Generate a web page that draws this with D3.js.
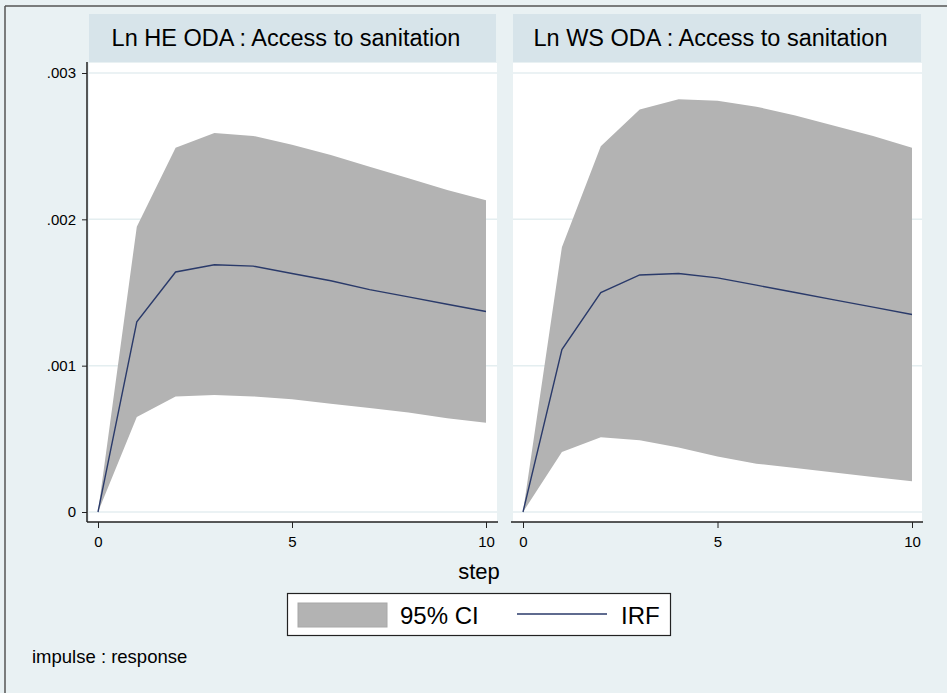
<!DOCTYPE html>
<html>
<head>
<meta charset="utf-8">
<script src="https://cdn.jsdelivr.net/npm/d3@7"></script>
<style>
  body { margin: 0; background: #e9f1f3; }
  text { font-family: "Liberation Sans", Arial, sans-serif; fill: #000; }
</style>
</head>
<body>
<div id="vis"></div>
<script>
const width = 947;
const height = 693;

const steps = [0, 1, 2, 3, 4, 5, 6, 7, 8, 9, 10];

// Ln HE ODA : Access to sanitation
const heIrf = [0, 0.00130, 0.00164, 0.00169, 0.00168, 0.00163, 0.00158, 0.00152, 0.00147, 0.00142, 0.00137];
const heLower = [0, 0.00065, 0.00079, 0.00080, 0.00079, 0.00077, 0.00074, 0.00071, 0.00068, 0.00064, 0.00061];
const heUpper = [0, 0.00195, 0.00249, 0.00259, 0.00257, 0.00251, 0.00244, 0.00236, 0.00228, 0.00220, 0.00213];

// Ln WS ODA : Access to sanitation
const wsIrf = [0, 0.00111, 0.00150, 0.00162, 0.00163, 0.00160, 0.00155, 0.00150, 0.00145, 0.00140, 0.00135];
const wsLower = [0, 0.00041, 0.00051, 0.00049, 0.00044, 0.00038, 0.00033, 0.00030, 0.00027, 0.00024, 0.00021];
const wsUpper = [0, 0.00181, 0.00250, 0.00275, 0.00282, 0.00281, 0.00277, 0.00271, 0.00264, 0.00257, 0.00249];

const panelTitles = ["Ln HE ODA : Access to sanitation", "Ln WS ODA : Access to sanitation"];
const yTicks = [0, 0.001, 0.002, 0.003];
const yTickLabels = ["0", ".001", ".002", ".003"];
const xTicks = [0, 5, 10];
const legendLabels = ["95% CI", "IRF"];

const bg = "#e9f1f3";
const bandColor = "#d7e4ea";
const ciColor = "#b3b3b3";
const irfColor = "#2a3a6a";
const gridColor = "#e4eef0";

const svg = d3
  .select("#vis")
  .append("svg")
  .attr("width", width)
  .attr("height", height);

svg.append("rect").attr("width", width).attr("height", height).attr("fill", bg);

// outer frame (top and left edges visible)
svg.append("line").attr("x1", 5).attr("x2", width).attr("y1", 6).attr("y2", 6)
  .attr("stroke", "#555").attr("stroke-width", 1.5);
svg.append("line").attr("x1", 5).attr("x2", 5).attr("y1", 6).attr("y2", height)
  .attr("stroke", "#555").attr("stroke-width", 1.5);

const y = d3.scaleLinear().domain([0, 0.003]).range([512, 73]);

const panels = [
  { title: panelTitles[0], irf: heIrf, lower: heLower, upper: heUpper, left: 89, right: 497, x0: 98, x1: 486, yAxis: true },
  { title: panelTitles[1], irf: wsIrf, lower: wsLower, upper: wsUpper, left: 513, right: 922, x0: 523, x1: 912, yAxis: false },
];

const plotTop = 62;
const plotBottom = 522;

panels.forEach((p) => {
  const g = svg.append("g");
  const x = d3.scaleLinear().domain([0, 10]).range([p.x0, p.x1]);

  // title band
  g.append("rect")
    .attr("x", p.left)
    .attr("y", 14)
    .attr("width", p.right - p.left - 1)
    .attr("height", plotTop - 14)
    .attr("fill", bandColor);

  g.append("text")
    .attr("x", (p.left + p.right) / 2 - 7)
    .attr("y", 46)
    .attr("text-anchor", "middle")
    .style("font-size", "23.5px")
    .text(p.title);

  // plot region
  g.append("rect")
    .attr("x", p.left)
    .attr("y", plotTop + 1)
    .attr("width", p.right - p.left)
    .attr("height", plotBottom - plotTop - 1)
    .attr("fill", "#fff");

  // gridlines
  g.selectAll(".grid")
    .data(yTicks)
    .enter()
    .append("line")
    .attr("x1", p.left)
    .attr("x2", p.right)
    .attr("y1", (d) => y(d))
    .attr("y2", (d) => y(d))
    .attr("stroke", gridColor)
    .attr("stroke-width", 1.5);

  // confidence band
  const area = d3
    .area()
    .x((d, i) => x(steps[i]))
    .y0((d, i) => y(p.lower[i]))
    .y1((d, i) => y(p.upper[i]));

  g.append("path")
    .datum(steps)
    .attr("d", area)
    .attr("fill", ciColor);

  // impulse response
  const line = d3
    .line()
    .x((d, i) => x(steps[i]))
    .y((d) => y(d));

  g.append("path")
    .datum(p.irf)
    .attr("d", line)
    .attr("fill", "none")
    .attr("stroke", irfColor)
    .attr("stroke-width", 1.4);

  // x axis
  const xAxis = d3
    .axisBottom(x)
    .tickValues(xTicks)
    .tickFormat(d3.format("d"))
    .tickSize(6)
    .tickPadding(8);

  const xg = g.append("g")
    .attr("transform", `translate(0,${plotBottom})`)
    .call(xAxis);
  xg.select(".domain").remove();
  xg.selectAll(".tick line").attr("stroke", "#222");
  xg.selectAll(".tick text")
    .style("font-size", "15px")
    .style("font-family", "Liberation Sans, Arial, sans-serif")
    .attr("fill", "#000");

  g.append("line")
    .attr("x1", p.left - 2)
    .attr("x2", p.right + 1)
    .attr("y1", plotBottom)
    .attr("y2", plotBottom)
    .attr("stroke", "#222")
    .attr("stroke-width", 1.5);

  if (p.yAxis) {
    const yAxis = d3
      .axisLeft(y)
      .tickValues(yTicks)
      .tickFormat((d, i) => yTickLabels[i])
      .tickSize(5)
      .tickPadding(6);

    const yg = g.append("g")
      .attr("transform", `translate(87,0)`)
      .call(yAxis);
    yg.select(".domain").remove();
    yg.selectAll(".tick line").attr("stroke", "#222");
    yg.selectAll(".tick text")
      .style("font-size", "15px")
      .style("font-family", "Liberation Sans, Arial, sans-serif")
      .attr("fill", "#000");

    g.append("line")
      .attr("x1", 87)
      .attr("x2", 87)
      .attr("y1", plotTop)
      .attr("y2", plotBottom)
      .attr("stroke", "#222")
      .attr("stroke-width", 1.5);
  }
});

// x axis title
svg.append("text")
  .attr("x", 479)
  .attr("y", 579)
  .attr("text-anchor", "middle")
  .style("font-size", "22px")
  .text("step");

// legend
const legend = svg.append("g");
legend.append("rect")
  .attr("x", 287.5)
  .attr("y", 593.5)
  .attr("width", 383)
  .attr("height", 42)
  .attr("fill", "#fff")
  .attr("stroke", "#222")
  .attr("stroke-width", 1.2);

legend.append("rect")
  .attr("x", 298)
  .attr("y", 603)
  .attr("width", 89)
  .attr("height", 24)
  .attr("fill", ciColor)
  .attr("stroke", "#a8a8a8");

legend.append("text")
  .attr("x", 400)
  .attr("y", 624)
  .style("font-size", "24px")
  .text(legendLabels[0]);

legend.append("line")
  .attr("x1", 517)
  .attr("x2", 607)
  .attr("y1", 614)
  .attr("y2", 614)
  .attr("stroke", irfColor)
  .attr("stroke-width", 1.6);

legend.append("text")
  .attr("x", 621)
  .attr("y", 624)
  .style("font-size", "24px")
  .text(legendLabels[1]);

// note
svg.append("text")
  .attr("x", 32)
  .attr("y", 663)
  .style("font-size", "18.5px")
  .text("impulse : response");
</script>
</body>
</html>
